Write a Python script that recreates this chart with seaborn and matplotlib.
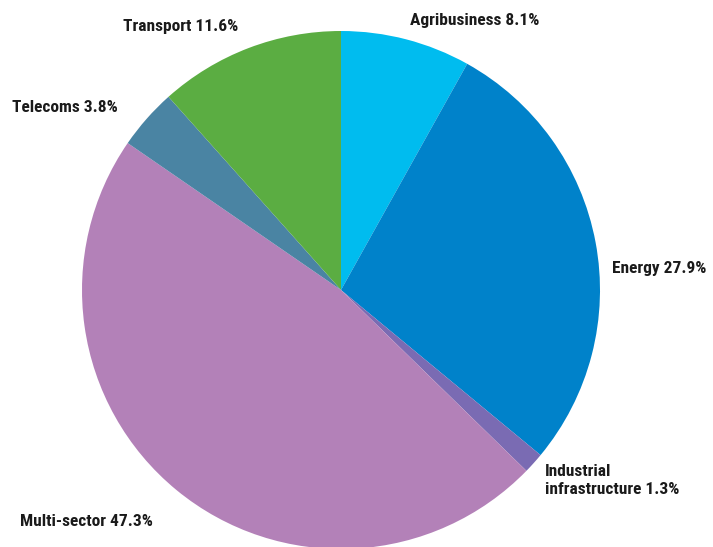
import matplotlib
matplotlib.use("Agg")
import matplotlib.pyplot as plt
from matplotlib import font_manager
import seaborn as sns

sectors = ["Agribusiness", "Energy", "Industrial\ninfrastructure", "Multi-sector", "Telecoms", "Transport"]
shares = [8.1, 27.9, 1.3, 47.3, 3.8, 11.6]
colors = ["#00BCEF", "#0082CA", "#7A6BB3", "#B381B8", "#4A84A3", "#5BAD42"]

# label anchor points (figure pixels from top-left)
label_pos = [(410, 20), (612, 268), (545, 480), (20, 521), (12, 107), (123, 27)]

sns.set_theme(style="white")
available = {f.name for f in font_manager.fontManager.ttflist}
families = [f for f in ["Roboto Condensed", "Liberation Sans Narrow", "DejaVu Sans Condensed", "Roboto", "DejaVu Sans"] if f in available]
plt.rcParams["font.family"] = families

W, H = 713, 547
fig = plt.figure(figsize=(W / 100, H / 100), dpi=100)
ax = fig.add_axes([0, 0, 1, 1])

cx, cy, r = 341, H - 290, 259
ax.pie(shares, colors=colors, startangle=90, counterclock=False,
       center=(cx, cy), radius=r, frame=True,
       wedgeprops=dict(linewidth=0))
ax.set_xlim(0, W)
ax.set_ylim(0, H)
ax.set_aspect("equal")
ax.axis("off")

for name, val, (x, y) in zip(sectors, shares, label_pos):
    ax.text(x, H - y, f"{name} {val}%", ha="left", va="center",
            fontsize=12.5, fontweight="bold", color="#1a1a1a", linespacing=1.25)

fig.savefig("out.png", dpi=100)
